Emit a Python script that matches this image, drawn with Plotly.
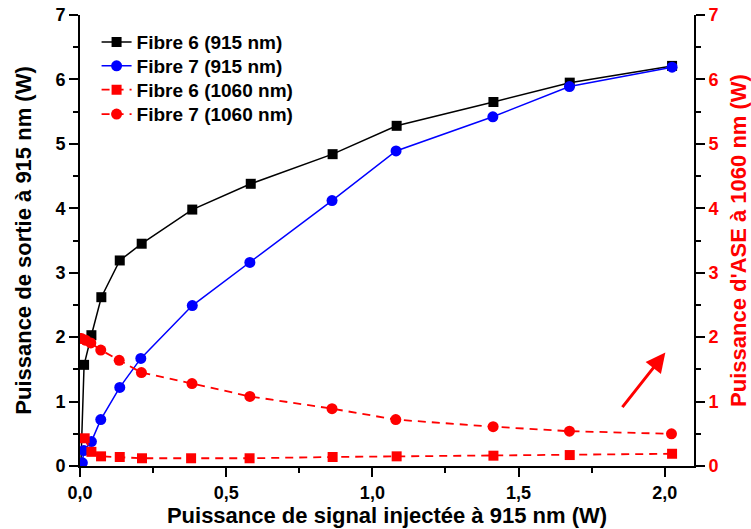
import plotly.graph_objects as go

# ---- data ----
x_f6_915 = [0.003, 0.014, 0.039, 0.073, 0.136, 0.211, 0.384, 0.584, 0.864, 1.083, 1.414, 1.675, 2.025]
y_f6_915 = [0.02, 1.57, 2.03, 2.62, 3.19, 3.45, 3.98, 4.38, 4.84, 5.28, 5.65, 5.95, 6.21]

x_f7_915 = [0.008, 0.013, 0.039, 0.071, 0.136, 0.208, 0.384, 0.581, 0.862, 1.081, 1.412, 1.674, 2.025]
y_f7_915 = [0.05, 0.24, 0.38, 0.72, 1.22, 1.67, 2.49, 3.16, 4.12, 4.89, 5.42, 5.89, 6.19]

x_f6_1060 = [0.016, 0.039, 0.072, 0.136, 0.212, 0.380, 0.580, 0.864, 1.083, 1.414, 1.675, 2.025]
y_f6_1060 = [0.43, 0.22, 0.15, 0.14, 0.12, 0.12, 0.12, 0.14, 0.15, 0.16, 0.17, 0.19]

x_f7_1060 = [0.005, 0.020, 0.037, 0.071, 0.134, 0.210, 0.383, 0.581, 0.862, 1.080, 1.413, 1.674, 2.023]
y_f7_1060 = [1.98, 1.95, 1.91, 1.80, 1.64, 1.45, 1.28, 1.08, 0.89, 0.72, 0.61, 0.54, 0.50]

names = ["Fibre 6 (915 nm)", "Fibre 7 (915 nm)", "Fibre 6 (1060 nm)", "Fibre 7 (1060 nm)"]
x_title = "Puissance de signal injectée à 915 nm (W)"
y_title = "Puissance de sortie à 915 nm (W)"
y2_title = "Puissance d'ASE à 1060 nm (W)"

# arrow (data coordinates): tail -> head
arrow_tail = (1.851, 0.89)
arrow_head = (2.002, 1.76)

FONT = "Liberation Sans, Arial, sans-serif"
RED = "#ff0000"
BLUE = "#0000ff"

legend_ids = ["legend", "legend2", "legend3", "legend4"]
legend_y = [0.94, 0.887, 0.834, 0.78]

fig = go.Figure()
fig.add_trace(go.Scatter(x=x_f6_915, y=y_f6_915, name=names[0], mode="lines+markers", legend=legend_ids[0],
                         line=dict(color="black", width=1.5),
                         marker=dict(symbol="square", size=10, color="black")))
fig.add_trace(go.Scatter(x=x_f7_915, y=y_f7_915, name=names[1], mode="lines+markers", legend=legend_ids[1],
                         line=dict(color=BLUE, width=1.5),
                         marker=dict(symbol="circle", size=11, color=BLUE)))
fig.add_trace(go.Scatter(x=x_f6_1060, y=y_f6_1060, name=names[2], mode="lines+markers", yaxis="y2",
                         legend=legend_ids[2],
                         line=dict(color=RED, width=1.8, dash="8px,6px"),
                         marker=dict(symbol="square", size=10, color=RED)))
fig.add_trace(go.Scatter(x=x_f7_1060, y=y_f7_1060, name=names[3], mode="lines+markers", yaxis="y2",
                         legend=legend_ids[3],
                         line=dict(color=RED, width=1.8, dash="8px,6px"),
                         marker=dict(symbol="circle", size=11, color=RED)))

tickfont = dict(family=FONT, size=18, color="black", weight="bold")
titlefont = dict(family=FONT, size=22, color="black", weight="bold")

common = dict(showline=True, linewidth=2, linecolor="black", ticks="outside", ticklen=9,
              tickwidth=2, tickcolor="black", showgrid=False, zeroline=False, automargin=False)

legend_font = dict(family=FONT, size=19, color="black", weight="bold")
legends = {}
for lid, ly in zip(legend_ids, legend_y):
    legends[lid] = dict(x=0.027, y=ly, xanchor="left", yanchor="middle",
                        bgcolor="rgba(0,0,0,0)", font=legend_font, borderwidth=0)

fig.update_layout(
    width=751, height=529,
    margin=dict(l=80, r=57, t=15, b=63, autoexpand=False),
    paper_bgcolor="white", plot_bgcolor="white",
    separators=",.",
    showlegend=True,
    xaxis=dict(range=[0, 2.1], tick0=0, dtick=0.5, tickformat=".1f",
               minor=dict(dtick=0.25, ticks="outside", ticklen=5, tickwidth=2, tickcolor="black"),
               tickfont=tickfont, title=dict(text=x_title, font=titlefont, standoff=2), **common),
    yaxis=dict(range=[0, 7], tick0=0, dtick=1,
               minor=dict(dtick=0.5, ticks="outside", ticklen=5, tickwidth=2, tickcolor="black"),
               tickfont=tickfont, title=dict(text=y_title, font=titlefont, standoff=18), **common),
    yaxis2=dict(range=[0, 7], tick0=0, dtick=1, overlaying="y", side="right",
                minor=dict(dtick=0.5, ticks="outside", ticklen=5, tickwidth=2, tickcolor="black"),
                tickfont=dict(family=FONT, size=18, color=RED, weight="bold"),
                title=dict(text=y2_title, font=dict(family=FONT, size=22, color=RED, weight="bold"), standoff=14),
                **common),
    annotations=[dict(x=arrow_head[0], y=arrow_head[1], ax=arrow_tail[0], ay=arrow_tail[1],
                      xref="x", yref="y", axref="x", ayref="y", text="", showarrow=True,
                      arrowhead=2, arrowsize=1.3, arrowwidth=3, arrowcolor=RED)],
    **legends,
)

fig.write_html("out.html", post_script="document.body.style.margin='0';",
               config={"displayModeBar": False})
